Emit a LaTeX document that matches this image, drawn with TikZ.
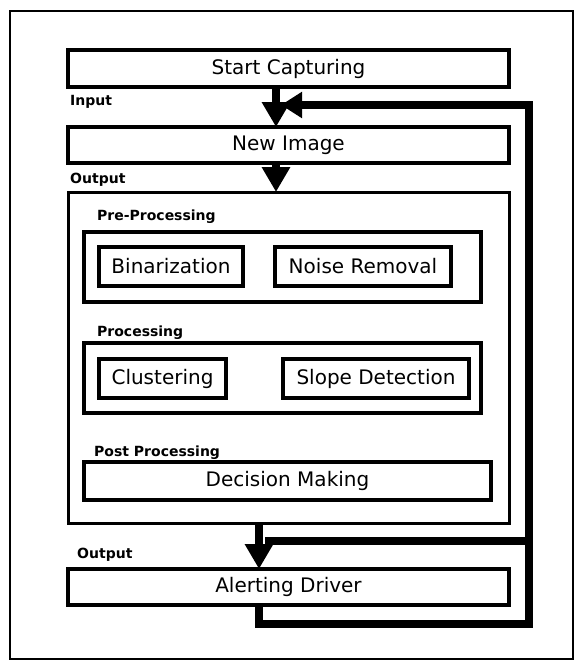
\documentclass[tikz,border=0pt]{standalone}
\usepackage{fontspec}
\setmainfont{DejaVu Sans}
\usetikzlibrary{arrows.meta}
\begin{document}
\begin{tikzpicture}[x=1pt,y=-1pt,
  box/.style={draw, line width=3.5pt, inner sep=0pt, outer sep=0pt, font=\fontsize{20}{22}\selectfont},
  lbl/.style={anchor=west, inner sep=0pt, font=\bfseries\fontsize{14}{16}\selectfont},
  conn/.style={line width=8pt, line join=miter},
  arr/.style={conn, -{Triangle[width=27pt,length=25pt]}},
  fbarr/.style={conn, -{Triangle[width=25pt,length=21pt]}}
]
\useasboundingbox (0,0) rectangle (576,662);
\node[draw, line width=1.5pt, minimum width=563pt, minimum height=648pt, inner sep=0pt] (frame) at (291.5,335) {};

\node[box, minimum width=441pt, minimum height=37pt] (sc) at (288.5,68.5) {Start Capturing};
\node[box, minimum width=441pt, minimum height=36pt] (ni) at (288.5,145) {New Image};
\node[box, line width=3pt, minimum width=441pt, minimum height=331pt] (pp) at (288.5,357.5) {};
\node[box, minimum width=397pt, minimum height=70pt] (pre) at (282.5,267) {};
\node[box, minimum width=144pt, minimum height=39pt] (bin) at (171,266.5) {Binarization};
\node[box, minimum width=176pt, minimum height=39pt] (noise) at (363,266.5) {Noise Removal};
\node[box, minimum width=397pt, minimum height=70pt] (proc) at (282.5,378) {};
\node[box, minimum width=127pt, minimum height=39pt] (clu) at (162.5,378.5) {Clustering};
\node[box, minimum width=186pt, minimum height=39pt] (slope) at (376,378.5) {Slope Detection};
\node[box, minimum width=407pt, minimum height=38pt] (dec) at (287.5,481) {Decision Making};
\node[box, minimum width=441pt, minimum height=36pt] (ad) at (288.5,587) {Alerting Driver};

\node[lbl] (lin) at (70,102) {Input};
\node[lbl] (lout1) at (70,180) {Output};
\node[lbl] (lpre) at (97,217) {Pre-Processing};
\node[lbl] (lproc) at (97,333) {Processing};
\node[lbl] (lpost) at (94,453) {Post Processing};
\node[lbl] (lout2) at (77,555) {Output};

\coordinate (xa) at (276,0);
\coordinate (xb) at (259,0);
\coordinate (fbtip) at (281,105);
\coordinate (lb) at (529,624);
\coordinate (br) at (265,541);

\draw[arr] (sc.south -| xa) -- (ni.north -| xa);
\draw[arr] (ni.south -| xa) -- (pp.north -| xa);
\draw[arr] (pp.south -| xb) -- (ad.north -| xb);
\draw[fbarr] (ad.south -| xb) |- (lb) |- (fbtip);
\draw[conn] (br) -- (br -| lb);
\end{tikzpicture}
\end{document}
